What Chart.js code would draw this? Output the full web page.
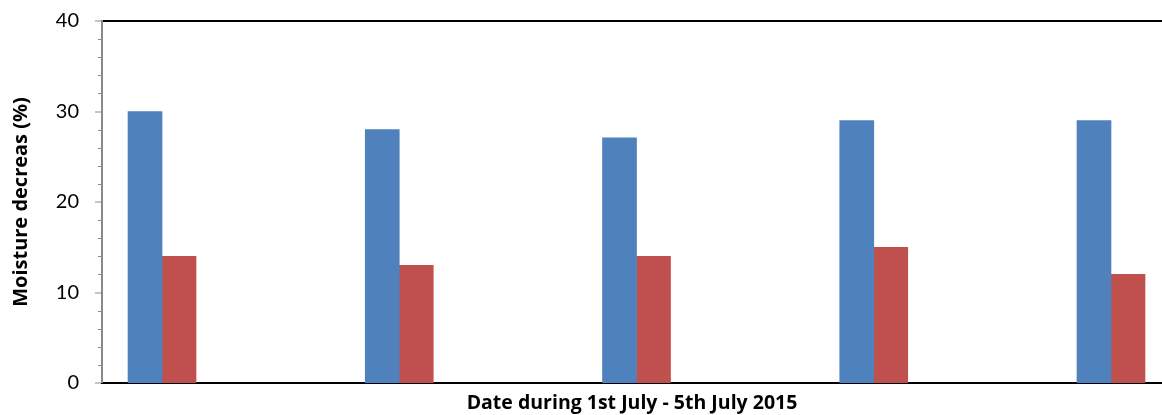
<!DOCTYPE html>
<html>
<head>
<meta charset="utf-8">
<script src="https://cdn.jsdelivr.net/npm/chart.js@4/dist/chart.umd.min.js"></script>
<style>
  html, body { margin: 0; padding: 0; background: #ffffff; }
  #wrap { width: 1162px; height: 415px; position: relative; }
</style>
</head>
<body>
<div id="wrap"><canvas id="chart"></canvas></div>
<script>
// Daily readings, 1st - 5th July 2015
const categories = ['1st July', '2nd July', '3rd July', '4th July', '5th July'];
const seriesBlue = [30, 28, 27.1, 29, 29];
const seriesRed = [14, 13, 14, 15, 12];
const yTicks = [0, 10, 20, 30, 40];

const BLUE = '#4F81BD';
const RED = '#C0504D';
const TICK_FONT = 'Lato, "Open Sans", "Liberation Sans", sans-serif';
const TITLE_FONT = '"Open Sans", Lato, "Liberation Sans", sans-serif';

// each day sits at position 1..5 on a numeric x axis
const toPoints = vals => categories.map((c, i) => ({ x: i + 1, y: vals[i] }));

// short minor ticks on the value axis, every 2 units
const minorTicks = {
  id: 'minorTicks',
  afterDraw(chart) {
    const y = chart.scales.y;
    const ctx = chart.ctx;
    const xr = chart.chartArea.left;
    ctx.save();
    ctx.strokeStyle = '#8a8a8a';
    ctx.lineWidth = 1;
    for (let v = 0; v <= 40; v += 2) {
      if (v % 10 === 0) continue;
      const py = Math.round(y.getPixelForValue(v)) + 0.5;
      ctx.beginPath();
      ctx.moveTo(xr - 4, py);
      ctx.lineTo(xr, py);
      ctx.stroke();
    }
    ctx.restore();
  }
};

new Chart(document.getElementById('chart'), {
  type: 'bar',
  data: {
    datasets: [
      { label: 'Series1', data: toPoints(seriesBlue), backgroundColor: BLUE, barThickness: 34 },
      { label: 'Series2', data: toPoints(seriesRed), backgroundColor: RED, barThickness: 34 }
    ]
  },
  options: {
    responsive: true,
    maintainAspectRatio: false,
    animation: false,
    layout: { padding: { top: 21, right: 0, left: 0, bottom: 0 } },
    plugins: { legend: { display: false }, tooltip: { enabled: false } },
    scales: {
      x: {
        type: 'linear',
        offset: false,
        bounds: 'data',
        min: 0.747,
        max: 5.215,
        ticks: { display: false },
        grid: { display: false, drawTicks: false, offset: false },
        border: { display: true, color: '#000000', width: 2 },
        title: {
          display: true,
          text: 'Date during 1st July - 5th July 2015',
          color: '#000000',
          font: { family: TITLE_FONT, size: 19.5, weight: 'bold' },
          padding: { top: 0, bottom: 0 }
        },
        afterFit(s) { s.height = 32; }
      },
      y: {
        min: 0,
        max: 40,
        afterBuildTicks(s) { s.ticks = yTicks.map(v => ({ value: v })); },
        ticks: {
          color: '#000000',
          padding: 16,
          font: { family: TICK_FONT, size: 20 }
        },
        grid: {
          drawOnChartArea: true,
          color: c => (c.tick && c.tick.value === 40 ? '#000000' : 'rgba(0,0,0,0)'),
          lineWidth: c => (c.tick && c.tick.value === 40 ? 2 : 0),
          tickColor: '#8a8a8a',
          tickLength: 7,
          tickWidth: 1
        },
        border: { display: true, color: '#8a8a8a', width: 2 },
        title: {
          display: true,
          text: 'Moisture decreas (%)',
          color: '#000000',
          font: { family: TITLE_FONT, size: 20, weight: 'bold' },
          padding: { top: 9, bottom: 0 }
        },
        afterFit(s) {
          s.width = 102;
          s.paddingTop = 0;
          s.paddingBottom = 0;
        }
      }
    }
  },
  plugins: [minorTicks]
});
</script>
</body>
</html>
